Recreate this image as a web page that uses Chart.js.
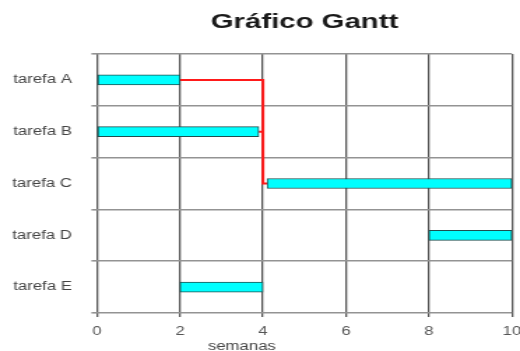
<!DOCTYPE html>
<html>
<head>
<meta charset="utf-8">
<script src="https://cdn.jsdelivr.net/npm/chart.js@4"></script>
<style>
  html, body { margin: 0; padding: 0; background: #fff; overflow: hidden; }
  #wrap { position: absolute; left: 0; top: 0; width: 372px; height: 351px;
          transform: scaleX(1.3978); transform-origin: 0 0; }
</style>
</head>
<body>
<div id="wrap"><canvas id="gantt"></canvas></div>
<script>
// Tasks and their start / end week
const tasks  = ['tarefa A', 'tarefa B', 'tarefa C', 'tarefa D', 'tarefa E'];
const starts = [0, 0, 4.1, 8, 2];
const ends   = [2, 3.9, 10, 10, 4];

// Week axis
const weekMin = 0;
const weekMax = 10;
const weekStep = 2;

// Dependency link: end of A -> week 4 -> down to C -> start of C
const linkWeeks = [2, 4, 4, 4.1];
const linkTasks = ['tarefa A', 'tarefa A', 'tarefa C', 'tarefa C'];
// Short link from end of B to the same week 4 line
const stubWeeks = [3.9, 4];
const stubTasks = ['tarefa B', 'tarefa B'];

const FONT = 'Arial, "Liberation Sans", sans-serif';

const toPoints = (xs, ys) => xs.map((x, i) => ({ x: x, y: ys[i] }));

// Axis caption under the week ticks
const captionPlugin = {
  id: 'caption',
  afterDraw(chart) {
    const ctx = chart.ctx;
    ctx.save();
    ctx.font = '12px ' + FONT;
    ctx.fillStyle = '#444';
    ctx.textAlign = 'center';
    ctx.textBaseline = 'middle';
    ctx.fillText('semanas', chart.width * 0.465, chart.height - 4);
    ctx.restore();
  }
};

new Chart(document.getElementById('gantt'), {
  type: 'bar',
  data: {
    labels: tasks,
    datasets: [
      {
        type: 'line',
        data: toPoints(linkWeeks, linkTasks),
        borderColor: '#ff1a1a',
        borderWidth: 2,
        pointRadius: 0,
        fill: false,
        tension: 0,
        order: 2
      },
      {
        type: 'line',
        data: toPoints(stubWeeks, stubTasks),
        borderColor: '#ff1a1a',
        borderWidth: 2,
        pointRadius: 0,
        fill: false,
        tension: 0,
        order: 2
      },
      {
        data: starts.map((s, i) => [s, ends[i]]),
        backgroundColor: '#00ffff',
        borderColor: '#1f4f4f',
        borderWidth: 1,
        borderSkipped: false,
        barThickness: 10,
        order: 1
      }
    ]
  },
  plugins: [captionPlugin],
  options: {
    indexAxis: 'y',
    responsive: true,
    maintainAspectRatio: false,
    animation: false,
    layout: { padding: { left: 0, right: 0, top: 0, bottom: 0 } },
    plugins: {
      legend: { display: false },
      tooltip: { enabled: false },
      title: {
        display: true,
        fullSize: false,
        text: 'Gráfico Gantt',
        color: '#1a1a1a',
        font: { family: FONT, size: 21, weight: 'bold' },
        padding: { top: 10, bottom: 18.8 }
      }
    },
    scales: {
      x: {
        type: 'linear',
        min: weekMin,
        max: weekMax,
        border: { display: false },
        grid: { color: '#555', lineWidth: 1.3, tickLength: 4 },
        ticks: {
          stepSize: weekStep,
          color: '#555',
          padding: 7,
          maxRotation: 0,
          font: { family: FONT, size: 12 }
        },
        afterFit(scale) {
          scale.height = 38;
          scale.paddingRight = 5.8;
        }
      },
      y: {
        type: 'category',
        offset: true,
        border: { display: false },
        grid: { offset: true, color: '#939393', lineWidth: 1.6, tickLength: 4 },
        ticks: {
          color: '#444',
          padding: 14,
          font: { family: FONT, size: 12 }
        },
        afterFit(scale) { scale.width = 69.4; }
      }
    }
  }
});
</script>
</body>
</html>
